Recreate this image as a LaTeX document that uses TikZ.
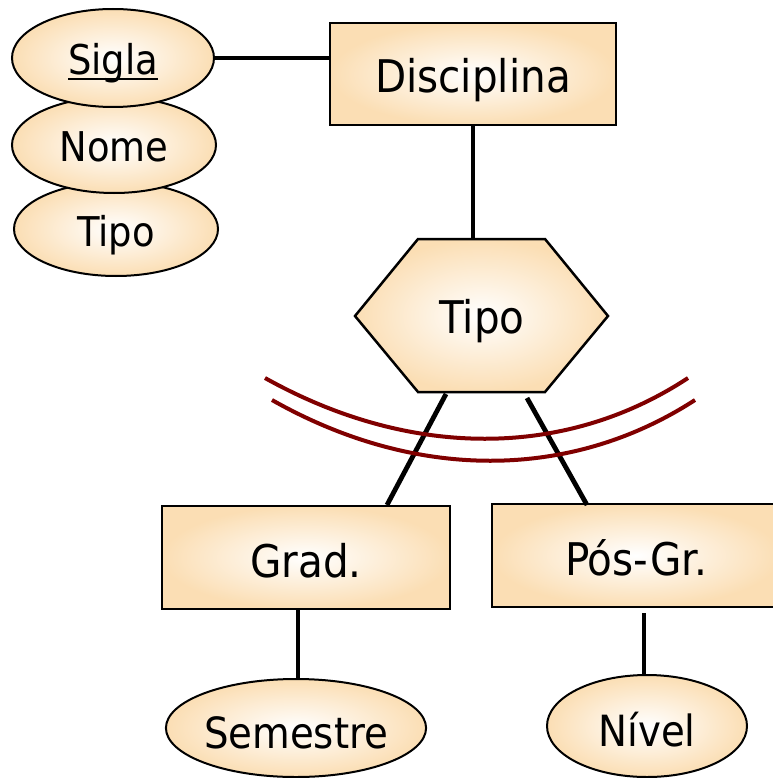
\documentclass[tikz,border=0pt]{standalone}
\usepackage{fontspec}
\setmainfont{DejaVu Sans Condensed}
\usetikzlibrary{shapes.geometric}
\definecolor{peach}{RGB}{251,222,180}
\definecolor{darkred}{RGB}{128,0,0}
\newcommand{\myul}[1]{\setbox0\hbox{#1}\rlap{\rule[-5pt]{\wd0}{2.4pt}}\box0}
\begin{document}
\begin{tikzpicture}[x=1pt,y=-1pt,
  entity/.style={draw=black, line width=2.5pt, shade, inner color=white, outer color=peach,
    rectangle, minimum width=288pt, minimum height=103pt, inner sep=0pt,
    text height=40pt, text depth=0pt,
    font=\fontsize{45}{52}\selectfont},
  attr/.style={draw=black, line width=2pt, ellipse, shade, inner color=white,
    outer color=peach, inner sep=0pt, text height=34pt, text depth=0pt,
    font=\fontsize{41}{48}\selectfont},
  bigattr/.style={attr, text height=40pt, font=\fontsize{43}{50}\selectfont},
  conn/.style={line width=4.8pt},
  disj/.style={draw=darkred, line width=4pt}]
\useasboundingbox (0,0) rectangle (772,778);

% attributes of Disciplina
\node[attr, minimum width=204pt, minimum height=94pt] (tipoA) at (116,229) {Tipo};
\node[attr, minimum width=204pt, minimum height=96pt] (nome) at (114,145) {Nome};
\node[attr, minimum width=202pt, minimum height=98pt] (sigla) at (113,58) {\myul{Sigla}};

% entities
\node[entity, minimum width=286pt, minimum height=102pt, text height=38pt] (disc) at (473,74) {Disciplina};
\node[entity] (grad) at (306,557.5) {Grad.};
\node[entity] (pos) at (636,555.5) {Pós-Gr.};

% hexagon
\path[draw=black, line width=2.5pt, shade, inner color=white, outer color=peach]
  (418,239) -- (545,239) -- (608,316) -- (545,392) -- (418,392) -- (355,316) -- cycle;
\node[font=\fontsize{45}{52}\selectfont, inner sep=0pt, text height=34pt, text depth=0pt] (rel) at (482,316) {Tipo};
\coordinate (reltop) at (473,239);
\coordinate (relbl) at (446,394);
\coordinate (relbr) at (527,398);

% bottom attributes
\node[bigattr, minimum width=256pt, minimum height=98pt] (sem) at (296,728) {Semestre};
\node[bigattr, minimum width=200pt, minimum height=102pt] (niv) at (647,726) {Nível};

% connectors
\draw[conn] (sigla.east) -- (sigla.east -| disc.west);
\draw[conn] (disc.south -| reltop) -- (reltop);
\draw[conn] (relbl) -- (387,505) coordinate (gradtop);
\draw[conn] (relbr) -- (587,505) coordinate (postop);
\draw[conn] (grad.south -| 298,0) -- (298,680) coordinate (semtop);
\draw[conn, shorten <=5pt] (pos.south -| 644,0) -- (644,675) coordinate (nivtop);

% disjointness arcs
\draw[disj] (265,378) .. controls (410,459) and (565,459) .. (688,378);
\draw[disj] (272,400) .. controls (415,481) and (570,481) .. (695,400);
\end{tikzpicture}
\end{document}
